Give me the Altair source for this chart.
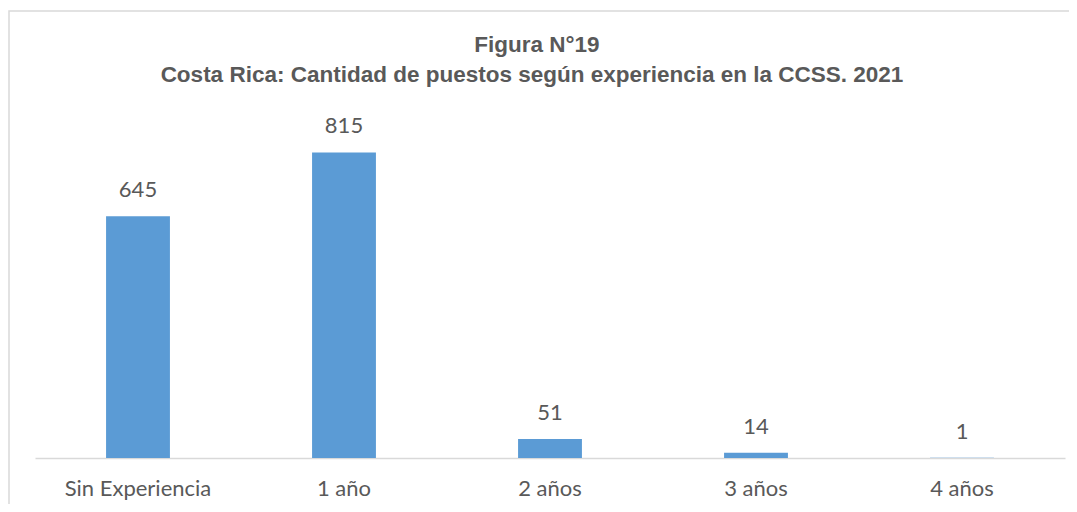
import altair as alt
import pandas as pd

categories = ["Sin Experiencia", "1 año", "2 años", "3 años", "4 años"]
values = [645, 815, 51, 14, 1]
title_lines = ["Figura N°19", "Costa Rica: Cantidad de puestos según experiencia en la CCSS. 2021"]

df = pd.DataFrame({"categoria": categories, "puestos": values})

x_enc = alt.X("categoria:N", sort=categories, title=None,
              scale=alt.Scale(paddingInner=0.69, paddingOuter=0.345),
              axis=alt.Axis(labelAngle=0, ticks=False, domainColor="#d9d9d9",
                            domainWidth=1.5, labelPadding=20, labelFontSize=22,
                            labelFont="Lato", labelColor="#595959"))
y_enc = alt.Y("puestos:Q", title=None, scale=alt.Scale(domain=[0, 1000]), axis=None)

one = pd.DataFrame({"f": [0]})
frame = alt.Chart(one).mark_rect(
    fillOpacity=0, stroke="#d9d9d9", strokeWidth=1.5, clip=False
).encode(x=alt.value(-26), x2=alt.value(1040), y=alt.value(-72), y2=alt.value(440))

title1 = alt.Chart(one).mark_text(
    font="Liberation Sans", fontSize=22.5, fontWeight="bold", color="#595959"
).encode(x=alt.value(502), y=alt.value(-38), text=alt.value(title_lines[0]))
title2 = alt.Chart(one).mark_text(
    font="Liberation Sans", fontSize=22.5, fontWeight="bold", color="#595959"
).encode(x=alt.value(497), y=alt.value(-8), text=alt.value(title_lines[1]))

bars = alt.Chart(df).mark_bar(color="#5B9BD5").encode(x=x_enc, y=y_enc)
labels = alt.Chart(df).mark_text(dy=-26, fontSize=22, font="Lato", color="#595959").encode(
    x=alt.X("categoria:N", sort=categories), y="puestos:Q", text="puestos:Q")

chart = alt.layer(frame, title1, title2, bars, labels).properties(
    width=1030, height=375,
    autosize=alt.AutoSizeParams(type="none"),
    padding={"left": 27, "top": 75, "right": 4, "bottom": 46},
).configure_view(stroke=None)

chart.save("out.html", embed_options={"renderer": "svg", "actions": False})
